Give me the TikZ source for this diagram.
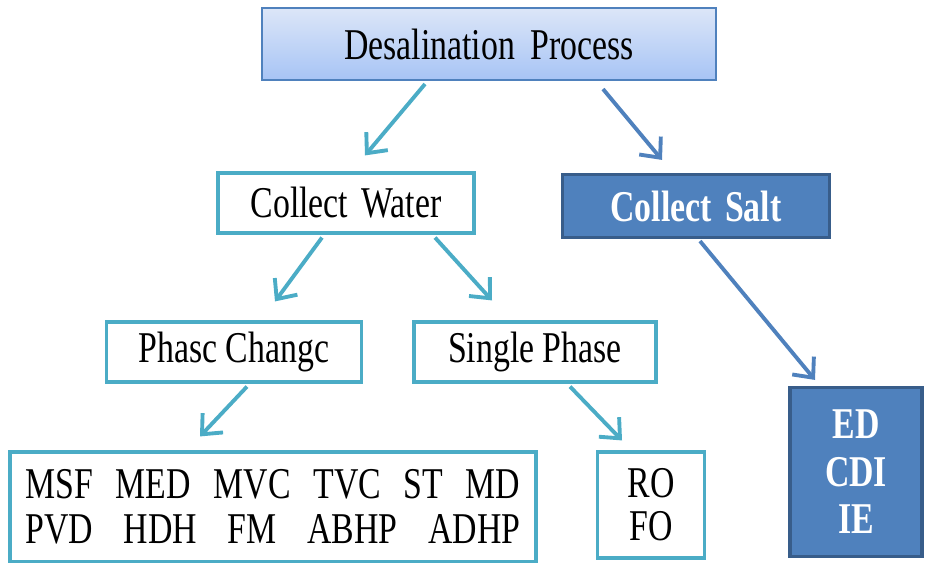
\documentclass[tikz,border=0pt]{standalone}
\usepackage{fontspec}
\setmainfont[FakeStretch=0.77]{Liberation Serif}
\usepackage{tikz}
\usetikzlibrary{arrows.meta,calc}
\definecolor{c1}{HTML}{4BACC6}
\definecolor{c2}{HTML}{4F81BD}
\definecolor{c3}{HTML}{385D8A}
\definecolor{c4}{HTML}{DCE6F8}
\definecolor{c5}{HTML}{A7C4F5}

\tikzset{
	wbox/.style={draw=c1, line width=1.8pt, fill=white, inner sep=0pt, font=\fontsize{25}{28}\selectfont},
	sbox/.style={draw=c3, line width=1.8pt, fill=c2, text=white, inner sep=0pt, font=\fontsize{25}{28}\selectfont\bfseries},
	arw/.style={c1, line width=2.2pt, -{Straight Barb[length=9pt,width=16pt,line width=2.2pt]}},
	ars/.style={c2, line width=2.2pt, -{Straight Barb[length=9pt,width=16pt,line width=2.2pt]}}
}

\begin{document}
\begin{tikzpicture}[x=0.02cm, y=-0.02cm]
	\useasboundingbox (0,0) rectangle (933,563);
	\node [draw=c2, line width=1.2pt, top color=c4, bottom color=c5, minimum width=9.08cm, minimum height=1.44cm, font=\fontsize{25}{28}\selectfont] (dp) at (489,44) {Desalination\hspace{0.35em}Process};
	\node [wbox, minimum width=5.12cm, minimum height=1.2cm] (cw) at (346,203) {Collect\hspace{0.3em}Water};
	\node [sbox, minimum width=5.34cm, minimum height=1.26cm] (cs) at (696,206) {Collect\hspace{0.3em}Salt};
	\node [wbox, minimum width=5.1cm, minimum height=1.2cm] (pc) at (234,352) {Phasc Changc};
	\node [wbox, minimum width=4.84cm, minimum height=1.2cm] (sp) at (535,352) {Single Phase};
	\node [wbox, minimum width=10.52cm, minimum height=2.2cm, align=center, font=\fontsize{25}{25.6}\selectfont] (ls) at (273,507)
		{\makebox[9.9cm][s]{MSF\hfill MED\hfill MVC\hfill TVC\hfill ST\hfill MD}\\
		 \makebox[9.9cm][s]{PVD\hfill HDH\hfill FM\hfill ABHP\hfill ADHP}};
	\node [wbox, minimum width=2.14cm, minimum height=2.12cm, align=center, font=\fontsize{25}{24.5}\selectfont] (ro) at (651,505) {RO\\FO};
	\node [sbox, minimum width=2.64cm, minimum height=3.38cm, align=center, font=\fontsize{25}{27}\selectfont\bfseries] (ed) at (856,472) {ED\\CDI\\IE};

	\draw [arw] ($(dp.south)+(-64,3)$) -- ($(cw.north)+(19,-16)$);
	\draw [ars] ($(dp.south)+(114,8)$) -- ($(cs.north)+(-34,-13)$);
	\draw [arw] ($(cw.south)+(-24,3)$) -- ($(pc.north)+(41,-19)$);
	\draw [arw] ($(cw.south)+(89,3)$) -- ($(sp.north)+(-43,-20)$);
	\draw [ars] ($(cs.south)+(4,2)$) -- ($(ed.north)+(-41,-6)$);
	\draw [arw] ($(pc.south)+(13,3)$) -- ($(ls.north)+(-73,-14)$);
	\draw [arw] ($(sp.south)+(35,3)$) -- ($(ro.north)+(-29,-10)$);
\end{tikzpicture}
\end{document}
